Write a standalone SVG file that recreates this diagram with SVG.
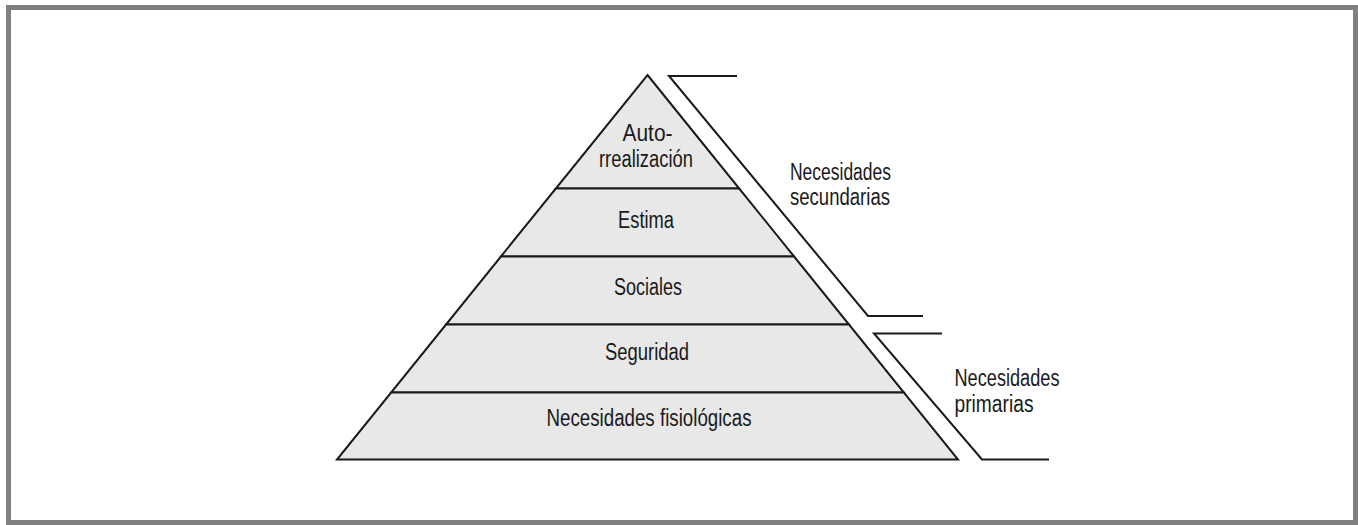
<svg xmlns="http://www.w3.org/2000/svg" width="1358" height="525" viewBox="0 0 1358 525">
<style>
  .lvl { fill: #e8e8e8; stroke: #1a1a1a; stroke-width: 2; stroke-linejoin: miter; }
  .lbl { font-family: "Liberation Sans", Arial, sans-serif; font-size: 23px; fill: #1a1a1a; }
  .mid { text-anchor: middle; }
  .brk { fill: none; stroke: #1a1a1a; stroke-width: 2; stroke-linejoin: miter; }
</style>
<rect x="8.5" y="7.5" width="1347" height="515" fill="#ffffff" stroke="#808080" stroke-width="5"/>
<g id="autorrealizacion">
  <polygon class="lvl" points="647.5,75 739.2,188.5 555.8,188.5"/>
  <text class="lbl mid" x="647.5" y="141" textLength="50" lengthAdjust="spacingAndGlyphs">Auto-</text>
  <text class="lbl mid" x="646" y="167" textLength="94" lengthAdjust="spacingAndGlyphs">rrealización</text>
</g>
<g id="estima">
  <polygon class="lvl" points="555.8,188.5 739.2,188.5 794.1,256.5 500.9,256.5"/>
  <text class="lbl mid" x="646" y="227.5" textLength="56" lengthAdjust="spacingAndGlyphs">Estima</text>
</g>
<g id="sociales">
  <polygon class="lvl" points="500.9,256.5 794.1,256.5 849,324.5 446,324.5"/>
  <text class="lbl mid" x="648" y="295" textLength="68" lengthAdjust="spacingAndGlyphs">Sociales</text>
</g>
<g id="seguridad">
  <polygon class="lvl" points="446,324.5 849,324.5 903.9,392.5 391.1,392.5"/>
  <text class="lbl mid" x="647" y="360" textLength="84" lengthAdjust="spacingAndGlyphs">Seguridad</text>
</g>
<g id="fisiologicas">
  <polygon class="lvl" points="391.1,392.5 903.9,392.5 958,459.5 337,459.5"/>
  <text class="lbl mid" x="649" y="425.5" textLength="205" lengthAdjust="spacingAndGlyphs">Necesidades fisiológicas</text>
</g>
<g id="secundarias">
  <text class="lbl" x="790" y="180" textLength="101" lengthAdjust="spacingAndGlyphs">Necesidades</text>
  <text class="lbl" x="790" y="205" textLength="100" lengthAdjust="spacingAndGlyphs">secundarias</text>
</g>
<g id="primarias">
  <text class="lbl" x="954.5" y="386" textLength="105" lengthAdjust="spacingAndGlyphs">Necesidades</text>
  <text class="lbl" x="954.5" y="411.5" textLength="79" lengthAdjust="spacingAndGlyphs">primarias</text>
</g>
<g id="connectors">
  <polyline class="brk" points="737,76 669,76 868,316 923,316"/>
  <polyline class="brk" points="942,333.5 874,333.5 982,459.5 1049,459.5"/>
</g>
</svg>
